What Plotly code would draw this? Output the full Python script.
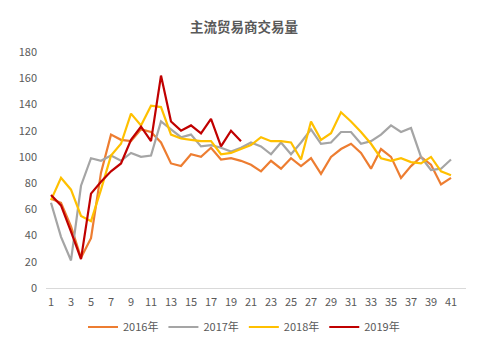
import plotly.graph_objects as go

weeks = list(range(1, 43))
tick_vals = list(range(1, 42, 2))
tick_text = [str(v) for v in tick_vals]

s2016 = [68, 65, 47, 23, 38, 88, 117, 113, 112, 121, 119, 111, 95, 93, 102, 100, 107, 98, 99, 97,
         94, 89, 97, 91, 99, 93, 99, 87, 100, 106, 110, 103, 91, 106, 100, 84, 93, 100, 94, 79, 84]
s2017 = [65, 39, 21, 78, 99, 97, 101, 97, 103, 100, 101, 127, 121, 115, 117, 108, 109, 107, 104, 107,
         111, 108, 102, 111, 102, 111, 121, 110, 111, 119, 119, 110, 112, 117, 124, 119, 122, 100, 90, 91, 98]
s2018 = [67, 84, 75, 55, 51, 75, 101, 110, 133, 124, 139, 138, 117, 114, 113, 112, 112, 102, 103, 106,
         109, 115, 112, 112, 111, 98, 127, 113, 118, 134, 127, 119, 110, 99, 97, 99, 96, 95, 100, 89, 86]
s2019 = [71, 63, 43, 22, 72, 81, 89, 95, 113, 123, 112, 162, 127, 120, 124, 118, 129, 108, 120, 112]

series = [
    ("2016年", s2016, "#ED7D31"),
    ("2017年", s2017, "#A5A5A5"),
    ("2018年", s2018, "#FFC000"),
    ("2019年", s2019, "#C00000"),
]

fig = go.Figure()
for name, vals, color in series:
    fig.add_trace(go.Scatter(
        x=weeks[:len(vals)], y=vals, name=name, mode="lines",
        line=dict(color=color, width=2.2),
    ))

font_family = "Noto Sans CJK SC"
fig.update_layout(
    width=488, height=352,
    margin=dict(l=46, r=22, t=52, b=64, autoexpand=False),
    paper_bgcolor="white", plot_bgcolor="white",
    font=dict(family=font_family, size=11, color="#595959"),
    title=dict(text="<b>主流贸易商交易量</b>", x=0.5, xanchor="center",
               y=1 - 27 / 352, yanchor="middle", yref="container",
               font=dict(family=font_family, size=13.5, color="#595959")),
    legend=dict(orientation="h", x=0.5, xanchor="center", xref="container",
                y=1 - 327 / 352, yanchor="middle", yref="container",
                font=dict(size=11, color="#595959"), itemwidth=30,
                tracegroupgap=0),
    showlegend=True,
)
fig.update_xaxes(
    range=[0.5, 42.5], tickmode="array", tickvals=tick_vals, ticktext=tick_text,
    showgrid=False, zeroline=False, showline=True, linecolor="#D9D9D9", linewidth=1,
    ticks="", ticklen=0, tickfont=dict(size=11, color="#595959"), fixedrange=True,
    ticklabelstandoff=4, automargin=False,
)
fig.update_yaxes(
    range=[0, 180], tickmode="array", tickvals=list(range(0, 181, 20)),
    showgrid=False, zeroline=False, showline=False, ticks="",
    tickfont=dict(size=11, color="#595959"), ticklabelstandoff=8, fixedrange=True,
    automargin=False,
)

fig.write_html("out.html")
